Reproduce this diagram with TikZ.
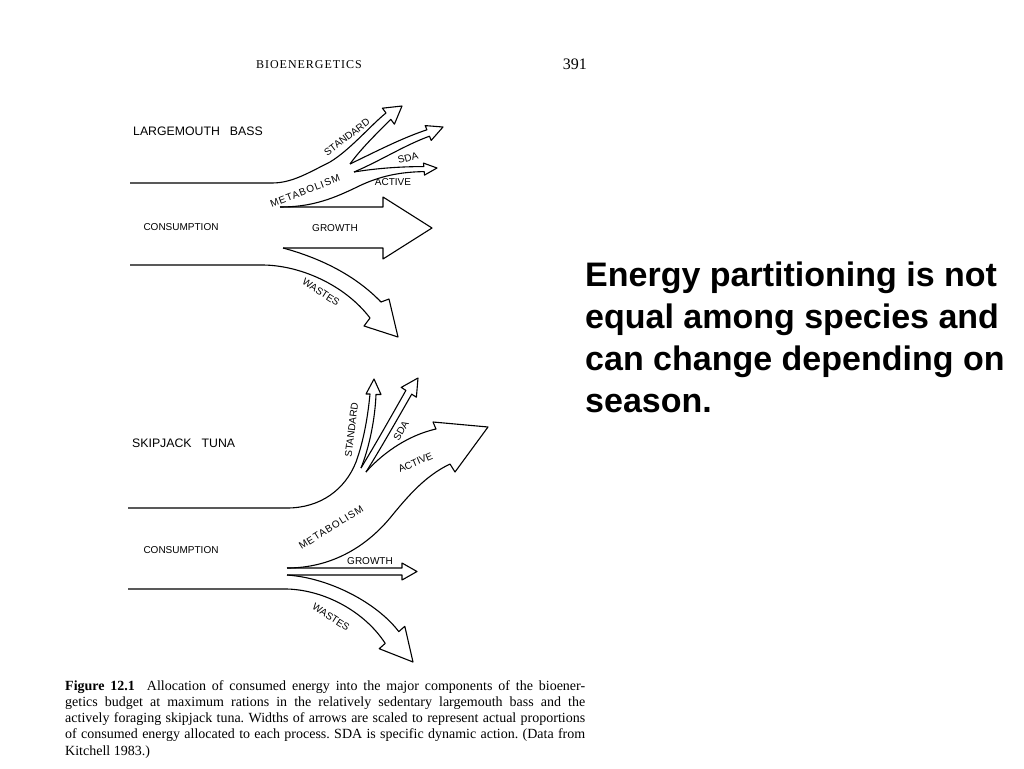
\documentclass[tikz,border=0pt]{standalone}
\usepackage{fontspec}
\setmainfont{Liberation Serif}
\newfontfamily\lblfont{Liberation Sans}
\newfontfamily\lblwide{Liberation Sans}[LetterSpace=10]
\newfontfamily\headfont{Liberation Serif}[LetterSpace=8]

\begin{document}
\begin{tikzpicture}[x=1pt,y=-1pt,
	flow/.style={line width=1.1pt,line join=round},
	lbl/.style={font=\lblfont\fontsize{10}{10}\selectfont,inner sep=0pt},
	ttl/.style={font=\lblfont\fontsize{12.3}{12.3}\selectfont,inner sep=0pt,anchor=base west},
	note/.style={font=\lblfont\bfseries\fontsize{34}{40}\selectfont,inner sep=0pt,anchor=base west}]
\useasboundingbox[fill=white] (0,0) rectangle (1024,768);
% page heading
\node[anchor=base west,inner sep=0pt,font=\headfont\fontsize{12}{12}\selectfont] (head) at (256,68) {BIOENERGETICS};
\node[anchor=base east,inner sep=0pt,font=\fontsize{16}{16}\selectfont] (page) at (587,70) {391};
\begin{scope}
	% largemouth bass
	\node[ttl] (bass) at (133,135.5) {LARGEMOUTH\hspace{10pt}BASS};
	\node[lbl] (cons1) at (181,227) {CONSUMPTION};
	\draw[flow] (130,183) -- (272,183) .. controls (292,183) and (308,173) .. (330,162) .. controls (350,150) and (372,124) .. (386,113) -- (382.4,108.2) -- (402,106) -- (394.4,124.2) -- (390.8,119.4) .. controls (375,135) and (360,150) .. (350,164);
	\draw[flow] (350,164) .. controls (375,152) and (402,138) .. (426.9,129.8) -- (425.2,125.6) -- (443,127) -- (431.2,140.4) -- (429.5,136.2) .. controls (405,145) and (380,161) .. (354,172);
	\draw[flow] (354,172) .. controls (375,168.5) and (400,166.5) .. (423.8,166.6) -- (423.5,163.1) -- (437,168) -- (424.5,175.1) -- (424.2,171.6) .. controls (395,172) and (375,178) .. (355,188) .. controls (330,200) and (310,207) .. (280,207);
	\draw[flow] (280,207) -- (383,207) -- (383,197) -- (432,228) -- (383,259) -- (383,248) -- (283,248);
	\draw[flow] (283,248) .. controls (320,258) and (355,275) .. (381,302) -- (389,299) -- (398,337) -- (364,326) -- (370,318) .. controls (345,285) and (300,265) .. (262,265) -- (130,265);
	\node[lbl,rotate=37] (std1) at (347,137) {STANDARD};
	\node[lbl,rotate=15] (sda1) at (408,158) {SDA};
	\node[lbl] (act1) at (393,182) {ACTIVE};
	\node[lbl,rotate=21,font=\lblwide\fontsize{10}{10}\selectfont] (met1) at (305,191) {METABOLISM};
	\node[lbl] (gro1) at (335,228) {GROWTH};
	\node[lbl,rotate=-33] (was1) at (321,292) {WASTES};
\end{scope}
\begin{scope}
	% skipjack tuna
	\node[ttl] (tuna) at (132,447.5) {SKIPJACK\hspace{10pt}TUNA};
	\node[lbl] (cons2) at (181,550) {CONSUMPTION};
	\draw[flow] (128,508) -- (287,508) .. controls (320,508) and (345,490) .. (356,462) .. controls (364,440) and (368,415) .. (370,394) -- (366,394) -- (374,379) -- (381,394.5) -- (376,394.5) .. controls (375,420) and (369,448) .. (361,468);
	\draw[flow] (361,468) .. controls (375,445) and (392,415) .. (405.9,390.4) -- (401.2,387.4) -- (418,378) -- (416.4,397.2) -- (411.7,394.2) .. controls (398,418) and (381,448) .. (366,472);
	\draw[flow] (366,472) .. controls (380,456) and (405,436) .. (436,429) -- (433,422) -- (488,427) -- (455,472) -- (450,464) .. controls (425,476) and (408,496) .. (390,518) .. controls (365,548) and (330,568) .. (287,568);
	\draw[flow] (287,568) -- (402,568) -- (402,563) -- (417,571.5) -- (402,580) -- (402,575) -- (287,575);
	\draw[flow] (287,575) .. controls (330,578) and (377,603) .. (398.8,631.6) -- (404.8,626.3) -- (413,662) -- (379.2,648.7) -- (385.2,643.4) .. controls (365,612) and (325,590) .. (287,589) -- (128,589);
	\node[lbl,rotate=83] (std2) at (351.5,430) {STANDARD};
	\node[lbl,rotate=60] (sda2) at (401,431) {SDA};
	\node[lbl,rotate=23] (act2) at (415.5,462.5) {ACTIVE};
	\node[lbl,rotate=32,font=\lblwide\fontsize{10}{10}\selectfont] (met2) at (331,527.5) {METABOLISM};
	\node[lbl] (gro2) at (370,561.5) {GROWTH};
	\node[lbl,rotate=-33] (was2) at (331,617) {WASTES};
\end{scope}
% caption
\node[anchor=base west,inner sep=0pt,font=\fontsize{14}{16.25}\selectfont] (cap) at (65,690) {\parbox[t]{520pt}{\frenchspacing
\hbox to 520pt{\textbf{Figure 12.1}\hskip 12pt Allocation of consumed energy into the major components of the bioener-}
\hbox to 520pt{getics budget at maximum rations in the relatively sedentary largemouth bass and the}
\hbox to 520pt{actively foraging skipjack tuna. Widths of arrows are scaled to represent actual proportions}
\hbox to 520pt{of consumed energy allocated to each process. SDA is specific dynamic action. (Data from}
\hbox{Kitchell 1983.)}}};
% slide text
\foreach \txt [count=\i] in {Energy partitioning is not,equal among species and,can change depending on,season.}
	\node[note] (note\i) at (585,{244+42*\i}) {\txt};
\end{tikzpicture}
\end{document}
